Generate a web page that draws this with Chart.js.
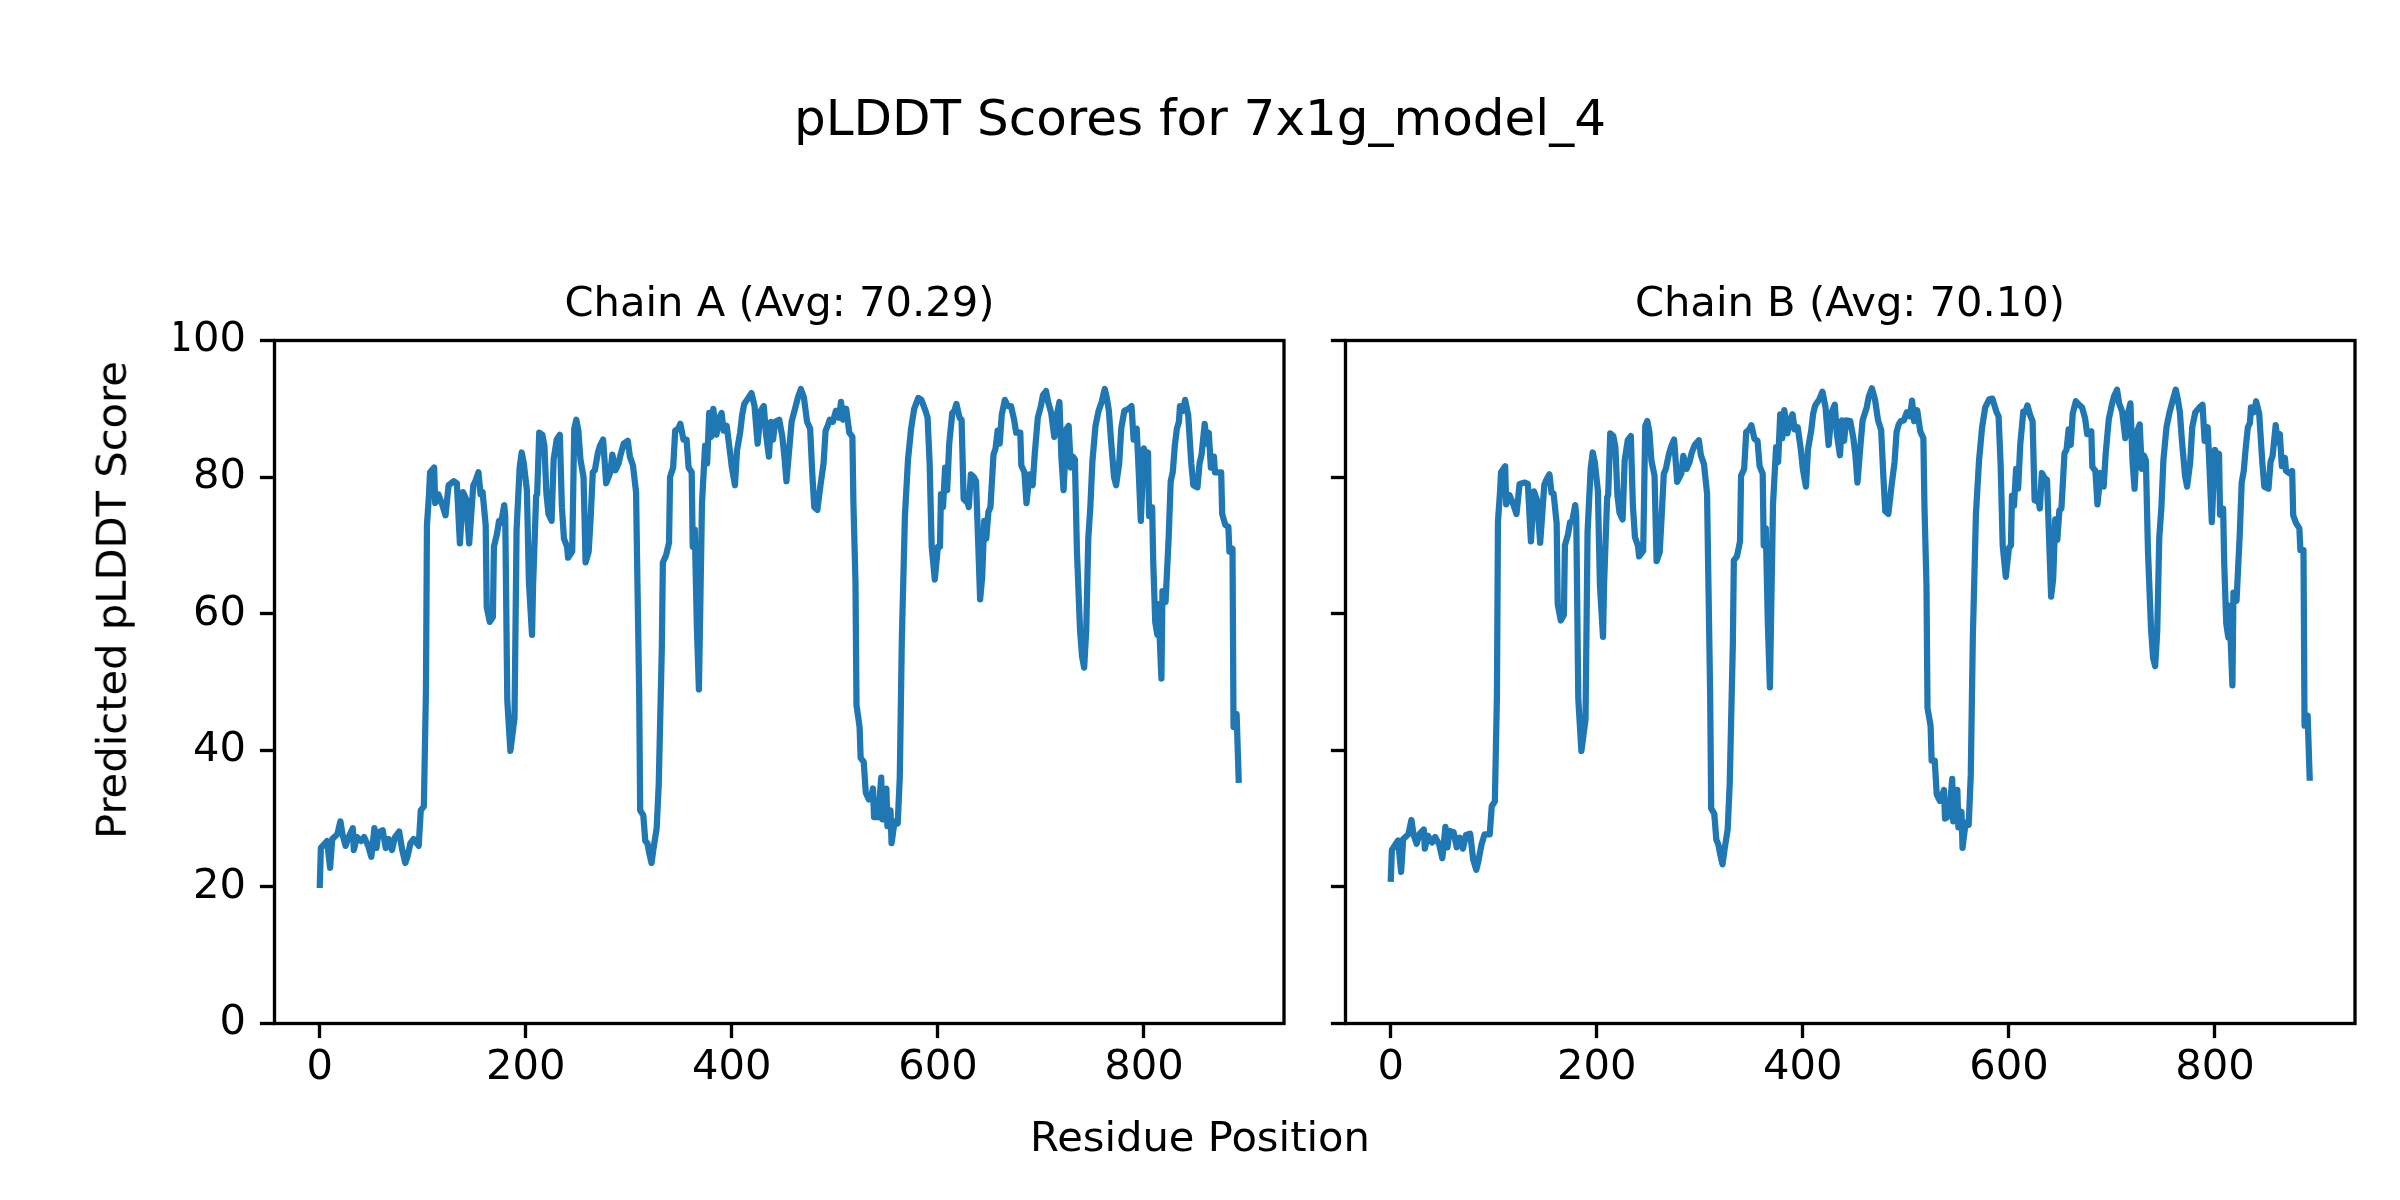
<!DOCTYPE html>
<html>
<head>
<meta charset="utf-8">
<title>pLDDT Scores for 7x1g_model_4</title>
<script src="https://cdn.jsdelivr.net/npm/chart.js@4.4.0/dist/chart.umd.min.js"></script>
<style>
  html, body { margin: 0; padding: 0; background: #fff; }
  #page { position: relative; width: 2400px; height: 1200px; overflow: hidden; background: #fff; }
  canvas { position: absolute; top: 0; }
  .txt {
    position: absolute;
    font-family: 'DejaVu Sans', sans-serif;
    color: #000;
    white-space: nowrap;
    transform: translate(-50%, -50%);
  }
</style>
</head>
<body>
<div id="page">
  <canvas id="chainA" width="1310" height="1200" style="left:0px;width:1310px;height:1200px"></canvas>
  <canvas id="chainB" width="1090" height="1200" style="left:1310px;width:1090px;height:1200px"></canvas>

  <div class="txt" style="left:1200px;top:117.7px;font-size:50px;line-height:58.2px">pLDDT Scores for 7x1g_model_4</div>
  <div class="txt" style="left:779.5px;top:301.6px;font-size:41.67px;line-height:48.5px">Chain A (Avg: 70.29)</div>
  <div class="txt" style="left:1850px;top:301.6px;font-size:41.67px;line-height:48.5px">Chain B (Avg: 70.10)</div>
  <div class="txt" style="left:1200px;top:1136.6px;font-size:41.67px;line-height:48.5px">Residue Position</div>
  <div class="txt" style="left:112.3px;top:600px;font-size:41.67px;line-height:48.5px;transform:translate(-50%,-50%) rotate(-90deg)">Predicted pLDDT Score</div>
</div>

<script>
// residue positions sampled along the chain (shared by both chains)
const residuePos = [
  0, 1, 7, 10, 12, 17, 20, 22, 25, 28,
  32, 33, 36, 40, 43, 47, 50, 53, 55, 57,
  61, 64, 67, 70, 73, 77, 80, 83, 85, 88,
  91, 96, 98, 101, 103, 104, 106, 107, 111, 112,
  115, 119, 122, 125, 130, 133, 136, 139, 142, 145,
  149, 151, 154, 156, 158, 161, 162, 165, 168, 169,
  172, 174, 176, 179, 180,
  182, 185, 189, 191, 194, 196, 198, 201, 203, 206,
  207, 210, 211, 213, 216, 218, 220, 222, 225, 227,
  230, 233, 235, 237, 240, 241, 245, 247, 249, 251,
  253, 256, 258, 261, 263, 265, 267, 270, 272, 275,
  278, 282, 284, 287, 290, 292, 295, 299, 301, 304,
  307, 308, 310, 311, 314, 316, 318, 320, 322, 324,
  327, 329, 332, 333, 336, 339, 340, 343, 345, 348,
  350, 353, 356, 358, 361, 362, 364, 366, 368, 371,
  374, 376, 378, 380, 382, 385, 388, 390, 392, 395,
  398, 400, 403, 405, 408, 410, 412, 416, 419, 422,
  425, 428, 431, 433, 436, 438, 440, 442, 446, 449,
  451, 453, 456, 458, 462, 464, 467, 470, 473, 476,
  478, 480, 483, 486, 489, 491, 493, 495, 498, 501,
  504, 506, 508, 511, 514, 517, 518, 520, 521, 524,
  525, 528, 530, 533, 535, 537, 538, 542, 545, 546,
  550, 551, 554, 555, 558, 561, 563, 565, 568, 571,
  574, 577,
  581, 584, 588, 590, 592, 594, 597, 600, 602, 603,
  605, 607, 609, 611, 614, 616, 618, 621, 623, 625,
  629, 630, 632, 635, 637, 639, 641, 643, 645, 647,
  649, 651, 654, 656, 658, 660, 662, 665, 668, 671,
  674, 676, 680, 681, 684, 686, 689, 692, 694, 697,
  700, 702, 705, 707, 710, 713, 715, 718, 720, 722,
  725, 727, 729, 731, 733, 735, 738, 740, 742, 744,
  746, 748, 750,
  753, 756, 759, 762, 764, 766, 768, 771, 773, 776,
  778, 781, 785, 788, 790, 793, 795, 797, 800, 802,
  804, 805, 808, 809, 811, 813, 814, 817, 818, 821,
  824, 826, 828, 830, 832, 834, 835, 838, 840, 843,
  846, 848, 852, 854, 856, 859, 861, 863, 865, 868,
  869, 873, 875, 876, 879, 882, 883, 886, 887, 890,
  892
];

const chainAScore = [
  20.3, 25.7, 26.7, 22.8, 27.0, 27.7, 29.6, 27.7, 26.0, 27.3,
  28.6, 25.4, 27.3, 26.7, 27.3, 26.0, 24.4, 28.6, 25.7, 28.0,
  28.3, 25.7, 27.0, 25.4, 27.3, 28.1, 25.4, 23.5, 24.4, 26.4,
  27.0, 26.0, 31.2, 31.8, 48.6, 73.0, 77.5, 80.7, 81.4, 76.2,
  77.5, 75.9, 74.4, 78.8, 79.4, 79.1, 70.3, 77.8, 76.8, 70.3,
  78.8, 79.4, 80.7, 77.5, 77.8, 73.0, 61.0, 58.8, 59.5, 69.8,
  71.7, 73.6, 73.3, 75.9, 74.3,
  47.3, 39.9, 44.7, 72.3, 81.4, 83.6, 82.0, 78.1, 64.6, 56.9,
  64.0, 77.2, 77.5, 86.5, 86.2, 84.6, 77.5, 74.6, 73.6, 82.6,
  85.5, 86.2, 75.6, 71.0, 69.8, 68.2, 69.1, 87.1, 88.4, 86.8,
  82.6, 80.0, 67.5, 69.1, 74.3, 80.7, 81.0, 83.6, 84.6, 85.5,
  79.1, 80.7, 83.3, 81.0, 82.0, 83.3, 84.9, 85.3, 83.0, 81.7,
  77.8, 67.8, 48.6, 31.2, 30.5, 26.7, 26.4, 24.8, 23.5, 25.7,
  28.6, 35.0, 55.0, 67.5, 68.5, 70.4, 80.0, 81.4, 86.8, 87.1,
  87.8, 85.5, 85.5, 81.4, 80.7, 69.8, 72.3, 58.2, 48.9, 76.2,
  84.6, 82.0, 89.4, 85.9, 90.0, 86.2, 88.7, 89.4, 86.8, 87.5,
  83.9, 81.4, 78.8, 83.9, 86.5, 89.1, 90.7, 91.6, 92.3, 90.4,
  84.9, 89.7, 90.4, 86.5, 83.0, 88.1, 85.5, 88.1, 88.4, 85.9,
  83.0, 79.4, 84.6, 88.1, 90.4, 91.6, 92.9, 91.6, 88.1, 87.1,
  80.7, 75.6, 75.2, 78.8, 82.0, 86.8, 87.5, 88.4, 88.1, 89.7,
  88.7, 91.0, 88.4, 90.0, 86.5, 85.9, 76.2, 64.6, 46.6, 43.4,
  38.9, 38.3, 33.8, 32.8, 33.1, 34.4, 30.2, 30.2, 36.0, 29.9,
  34.4, 28.9, 31.2, 26.4, 29.6, 29.3, 36.0, 56.3, 74.3, 82.6,
  87.1, 90.0,
  91.6, 91.3, 89.7, 88.7, 82.0, 69.8, 65.0, 69.8, 69.8, 77.5,
  75.6, 81.4, 78.1, 84.9, 89.4, 89.7, 90.7, 88.7, 88.4, 76.8,
  76.2, 75.6, 80.4, 80.0, 79.4, 71.0, 62.1, 65.3, 73.6, 71.0,
  74.9, 75.6, 83.3, 84.2, 86.8, 84.9, 89.1, 91.3, 90.4, 90.4,
  88.4, 86.5, 86.5, 81.7, 80.7, 76.2, 80.4, 78.8, 83.3, 88.7,
  90.4, 92.0, 92.6, 91.0, 89.4, 85.9, 88.7, 91.0, 82.6, 78.1,
  87.1, 87.5, 81.4, 83.0, 82.6, 69.1, 57.6, 53.7, 52.1, 57.6,
  71.0, 75.6, 82.3,
  87.5, 89.7, 91.0, 92.9, 91.6, 89.7, 85.5, 80.0, 78.8, 82.0,
  87.1, 89.7, 90.0, 90.4, 85.5, 87.1, 80.7, 73.6, 84.2, 83.0,
  83.6, 74.3, 75.6, 67.8, 58.8, 56.9, 61.4, 50.5, 63.3, 61.7,
  71.0, 79.4, 80.7, 84.6, 87.1, 88.1, 90.4, 89.7, 91.3, 89.1,
  82.0, 78.8, 78.5, 82.0, 83.3, 87.8, 84.9, 86.5, 81.4, 83.0,
  80.7, 80.7, 80.7, 74.6, 73.0, 72.7, 69.1, 69.5, 43.4, 45.3,
  35.7
];

const chainBScore = [
  21.2, 25.4, 26.8, 22.2, 27.0, 27.7, 29.8, 27.7, 26.3, 27.8,
  28.4, 25.6, 27.5, 26.5, 27.3, 26.2, 24.2, 28.8, 25.8, 28.2,
  28.0, 25.8, 27.2, 25.6, 27.6, 27.8, 24.0, 22.5, 23.8, 26.2,
  27.7, 27.7, 31.8, 32.5, 48.0, 73.5, 77.8, 80.7, 81.6, 76.0,
  77.4, 76.0, 74.6, 79.0, 79.2, 79.0, 70.6, 77.9, 76.6, 70.4,
  78.9, 79.6, 80.4, 77.7, 77.6, 73.2, 61.4, 59.0, 59.8, 70.0,
  71.6, 73.4, 73.5, 75.9, 74.4,
  47.5, 39.9, 44.5, 72.0, 81.2, 83.6, 82.2, 78.0, 64.2, 56.6,
  64.2, 77.0, 77.4, 86.4, 86.0, 84.4, 77.3, 74.8, 73.8, 82.4,
  85.4, 86.0, 75.8, 71.2, 69.9, 68.4, 69.2, 87.5, 88.2, 86.6,
  82.4, 80.2, 67.7, 69.0, 74.5, 80.5, 81.2, 83.4, 84.4, 85.5,
  79.3, 80.5, 83.1, 81.2, 82.2, 83.5, 84.7, 85.4, 83.2, 81.9,
  77.6, 67.5, 48.2, 31.5, 30.7, 26.9, 26.2, 24.6, 23.3, 25.5,
  28.4, 35.2, 55.4, 67.8, 68.4, 70.6, 80.2, 81.2, 86.6, 87.0,
  87.6, 85.6, 85.3, 81.6, 80.5, 70.0, 72.5, 58.6, 49.2, 76.0,
  84.4, 82.2, 89.2, 85.7, 89.8, 86.4, 88.5, 89.2, 87.0, 87.3,
  84.1, 81.2, 78.6, 84.1, 86.7, 89.3, 90.5, 91.4, 92.5, 90.2,
  84.7, 89.5, 90.6, 86.3, 83.2, 88.3, 85.3, 88.3, 88.2, 85.7,
  83.2, 79.2, 84.8, 88.3, 90.2, 91.8, 93.0, 91.4, 88.3, 86.9,
  80.5, 75.0, 74.6, 78.6, 82.2, 86.6, 87.7, 88.2, 88.3, 89.5,
  88.9, 91.2, 88.2, 89.8, 86.7, 85.7, 76.0, 64.2, 46.2, 43.6,
  38.5, 38.5, 33.5, 32.6, 33.3, 34.2, 30.0, 30.4, 35.8, 29.6,
  34.2, 28.7, 31.0, 25.7, 29.4, 29.1, 36.4, 56.6, 74.5, 82.4,
  87.3, 90.2,
  91.4, 91.5, 89.5, 88.9, 81.8, 70.0, 65.4, 69.6, 70.0, 77.3,
  75.8, 81.2, 78.3, 84.7, 89.6, 89.5, 90.5, 88.9, 88.2, 76.6,
  76.4, 75.4, 80.6, 79.8, 79.6, 71.2, 62.5, 65.1, 73.8, 70.8,
  75.1, 75.4, 83.5, 84.0, 87.0, 84.7, 89.3, 91.1, 90.6, 90.2,
  88.6, 86.3, 86.7, 81.5, 80.9, 76.0, 80.6, 78.6, 83.5, 88.5,
  90.6, 91.8, 92.8, 90.8, 89.6, 85.7, 88.9, 90.8, 82.4, 78.3,
  86.9, 87.7, 81.2, 83.2, 82.4, 69.3, 57.8, 53.5, 52.3, 57.4,
  71.2, 75.4, 82.5,
  87.3, 89.5, 91.2, 92.8, 91.4, 89.5, 85.3, 80.2, 78.6, 82.2,
  87.3, 89.5, 90.2, 90.6, 85.3, 87.3, 80.5, 73.4, 84.0, 83.2,
  83.4, 74.5, 75.4, 67.6, 58.6, 56.5, 61.2, 49.5, 63.1, 61.9,
  71.2, 79.2, 80.9, 84.4, 87.3, 87.9, 90.2, 89.5, 91.1, 89.3,
  82.2, 78.6, 78.3, 82.2, 83.1, 87.6, 85.1, 86.3, 81.6, 82.8,
  80.9, 80.5, 80.9, 74.4, 73.2, 72.5, 69.3, 69.3, 43.6, 45.1,
  36.0
];

const xTickValues = [0, 200, 400, 600, 800];
const yTickValues = [0, 20, 40, 60, 80, 100];

Chart.defaults.font.family = "'DejaVu Sans', sans-serif";
Chart.defaults.color = '#000';

const LINE_COLOR = '#1f77b4';
const SPINE = 3.33;
const TICK_LEN = 14.6;
const TICK_FONT = { size: 41.67, lineHeight: 1 };

// axes box on all four sides, like matplotlib spines
const framePlugin = {
  id: 'frame',
  afterDatasetsDraw(chart) {
    const { ctx, chartArea: a } = chart;
    ctx.save();
    ctx.strokeStyle = '#000';
    ctx.lineWidth = SPINE;
    ctx.strokeRect(a.left, a.top, a.right - a.left, a.bottom - a.top);
    ctx.restore();
  }
};

function buildChart(canvasId, scores, padding, yWidth, showYLabels) {
  const ctx = document.getElementById(canvasId).getContext('2d');
  return new Chart(ctx, {
    type: 'line',
    data: {
      datasets: [{
        data: residuePos.map((x, i) => ({ x: x, y: scores[i] })),
        borderColor: LINE_COLOR,
        borderWidth: 6.25,
        borderJoinStyle: 'round',
        borderCapStyle: 'square',
        pointRadius: 0,
        tension: 0,
        fill: false,
      }],
    },
    options: {
      responsive: false,
      devicePixelRatio: 1,
      animation: false,
      layout: { padding: padding },
      plugins: {
        legend: { display: false },
        title: { display: false },
        tooltip: { enabled: false },
      },
      scales: {
        x: {
          type: 'linear',
          min: -44,
          max: 936,
          afterBuildTicks: (axis) => { axis.ticks = xTickValues.map(v => ({ value: v })); },
          afterFit: (axis) => { axis.height = 100; },
          grid: {
            drawOnChartArea: false,
            drawTicks: true,
            tickLength: TICK_LEN,
            tickWidth: SPINE,
            tickColor: '#000',
          },
          border: { display: false },
          ticks: { font: TICK_FONT, padding: 9.7, maxRotation: 0, color: '#000' },
        },
        y: {
          type: 'linear',
          min: 0,
          max: 100,
          afterBuildTicks: (axis) => { axis.ticks = yTickValues.map(v => ({ value: v })); },
          afterFit: (axis) => { axis.width = yWidth; },
          grid: {
            drawOnChartArea: false,
            drawTicks: true,
            tickLength: TICK_LEN,
            tickWidth: SPINE,
            tickColor: '#000',
          },
          border: { display: false },
          ticks: { display: showYLabels, font: TICK_FONT, padding: 14, color: '#000' },
        },
      },
    },
    plugins: [framePlugin],
  });
}

buildChart('chainA', chainAScore, { left: 174.5, right: 26, top: 340.5, bottom: 76.5 }, 100, true);
buildChart('chainB', chainBScore, { left: 15.5, right: 45, top: 340.5, bottom: 76.5 }, 20, false);
</script>
</body>
</html>
